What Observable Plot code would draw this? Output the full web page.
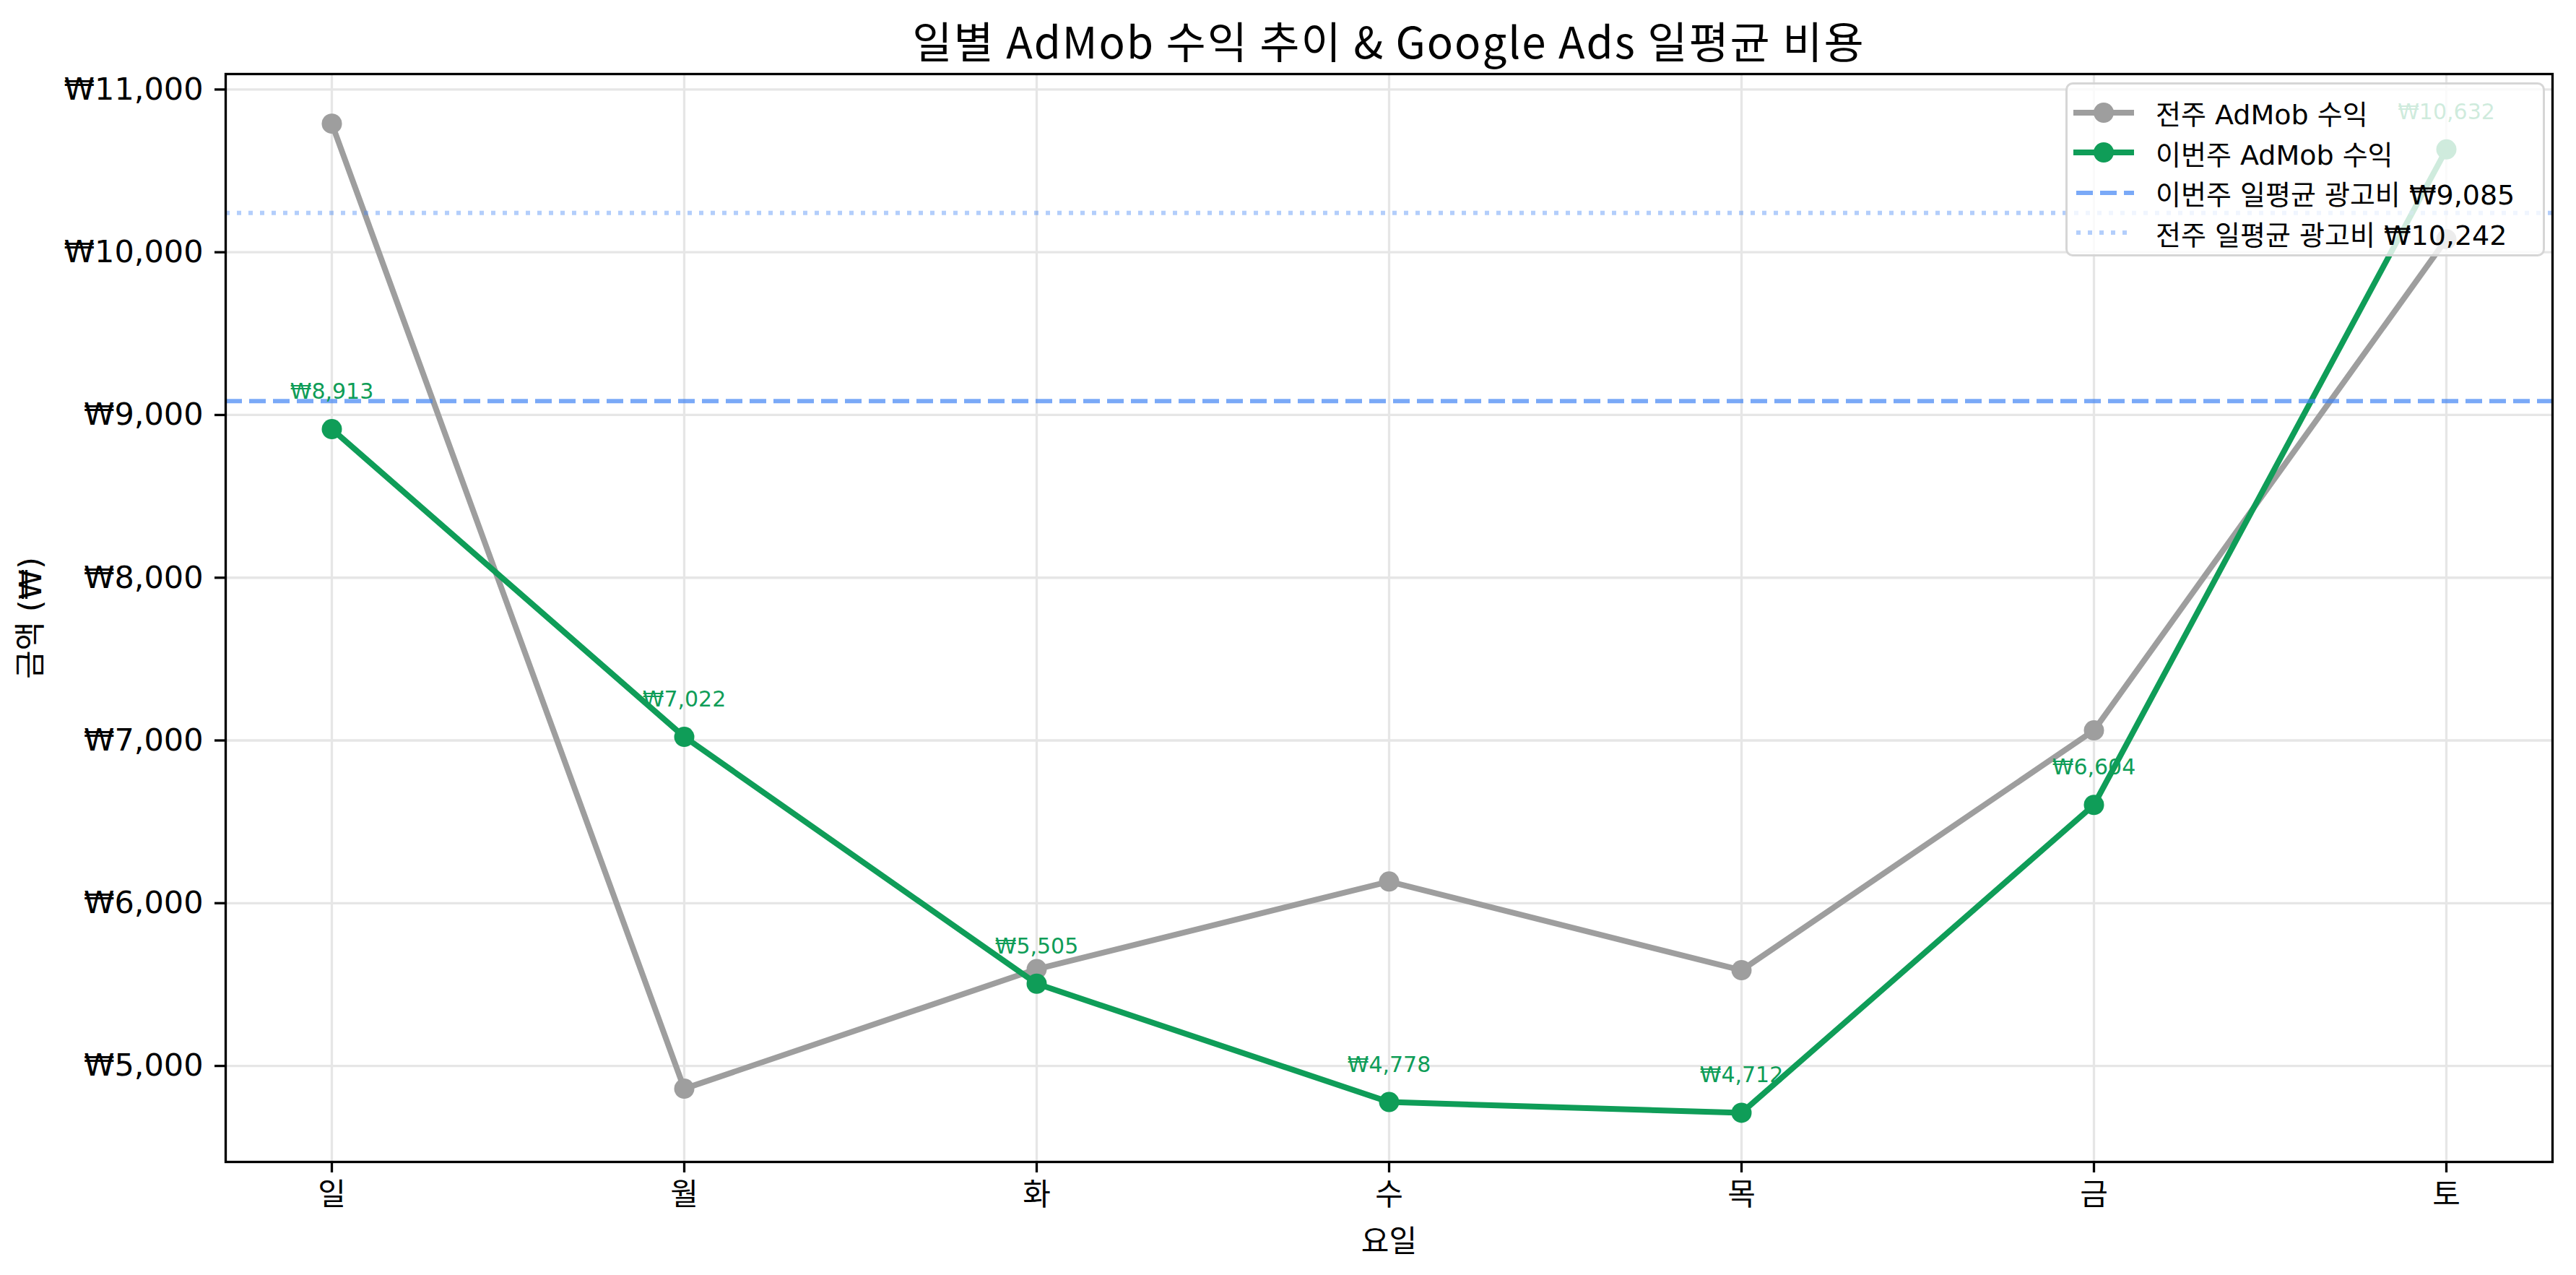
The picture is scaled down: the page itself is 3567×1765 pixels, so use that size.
<!DOCTYPE html>
<html>
<head>
<meta charset="utf-8">
<script src="https://cdn.jsdelivr.net/npm/d3@7"></script>
<script src="https://cdn.jsdelivr.net/npm/@observablehq/plot@0.6"></script>
<style>
  html, body { margin: 0; padding: 0; background: #ffffff; }
  body { width: 3567px; height: 1765px; overflow: hidden; font-family: "Noto Sans CJK KR", "Noto Sans", sans-serif; }
  #wrap { position: relative; width: 3567px; height: 1765px; }
  #title { height: 80px; box-sizing: border-box; padding-left: 312px; padding-right: 33px; text-align: center;
           font-size: 60px; line-height: 60px; padding-top: 25px; letter-spacing: 2px; color: #000; white-space: nowrap; }
  #legend { position: absolute; left: 2860px; top: 114px; width: 664px; height: 241px; box-sizing: border-box;
            background: rgba(255,255,255,0.8); border: 3px solid rgba(204,204,204,0.8); border-radius: 10px;
            padding-top: 11px; }
  .row { display: flex; align-items: center; height: 55.5px; font-size: 38px; color: #000; white-space: nowrap;
         font-family: "DejaVu Sans", "Noto Sans CJK KR", sans-serif; }
  .row svg { margin-left: 8px; margin-right: 30px; flex: none; }
</style>
</head>
<body>
<div id="wrap">
  <div id="title">일별 AdMob 수익 추이 &amp; Google Ads 일평균 비용</div>
  <div id="chart"></div>
  <div id="legend"></div>
</div>
<script>
const days = ["일", "월", "화", "수", "목", "금", "토"];
const lastWeekRevenue = [10790, 4860, 5595, 6133, 5588, 7062, 10080];
const thisWeekRevenue = [8913, 7022, 5505, 4778, 4712, 6604, 10632];
const avgCostThisWeek = 9085;
const avgCostLastWeek = 10242;
const yTicks = [5000, 6000, 7000, 8000, 9000, 10000, 11000];
const seriesNames = ["전주 AdMob 수익", "이번주 AdMob 수익"];

const GREEN = "#0f9d58";
const GRAY = "#9e9e9e";
const BLUE = "#4285f4";
const won = d => "₩" + d3.format(",")(d);

const lastData = days.map((d, i) => ({day: d, value: lastWeekRevenue[i]}));
const thisData = days.map((d, i) => ({day: d, value: thisWeekRevenue[i]}));

const chart = Plot.plot({
  width: 3567,
  height: 1685,
  marginTop: 22,
  marginBottom: 157,
  marginLeft: 312,
  marginRight: 33,
  style: {fontFamily: "'DejaVu Sans', 'Noto Sans CJK KR', sans-serif", fontSize: "42px", color: "#000", background: "#fff"},
  x: {type: "point", domain: days, padding: 0.3},
  y: {domain: [4410, 11095]},
  marks: [
    Plot.gridY(yTicks, {stroke: "#e6e6e6", strokeOpacity: 1, strokeWidth: 3.3}),
    Plot.gridX(days, {stroke: "#e6e6e6", strokeOpacity: 1, strokeWidth: 3.3}),
    Plot.line(lastData, {x: "day", y: "value", stroke: GRAY, strokeWidth: 8}),
    Plot.dot(lastData, {x: "day", y: "value", r: 14, fill: GRAY, stroke: null}),
    Plot.line(thisData, {x: "day", y: "value", stroke: GREEN, strokeWidth: 8}),
    Plot.dot(thisData, {x: "day", y: "value", r: 14, fill: GREEN, stroke: null}),
    Plot.ruleY([avgCostThisWeek], {stroke: BLUE, strokeOpacity: 0.7, strokeWidth: 6, strokeDasharray: "23,10"}),
    Plot.ruleY([avgCostLastWeek], {stroke: BLUE, strokeOpacity: 0.4, strokeWidth: 6, strokeDasharray: "6,10"}),
    Plot.text(thisData, {x: "day", y: "value", text: d => won(d.value), dy: -42, lineAnchor: "bottom",
                          fill: GREEN, fontSize: 30}),
    Plot.frame({stroke: "#000", strokeWidth: 3.3}),
    Plot.axisX(days, {tickSize: 15, tickPadding: 15, fontSize: 42, strokeWidth: 3.3,
                      label: "요일", labelAnchor: "center", labelArrow: "none", labelOffset: 124}),
    Plot.axisY(yTicks, {tickSize: 15, tickPadding: 16, fontSize: 43, strokeWidth: 3.3, tickFormat: won,
                        label: "금액 (₩)", labelAnchor: "center", labelArrow: "none", labelOffset: 286})
  ]
});
document.getElementById("chart").appendChild(chart);

// Legend (HTML overlay, semi-transparent like the reference)
const legendItems = [
  {label: seriesNames[0], color: GRAY, kind: "marker"},
  {label: seriesNames[1], color: GREEN, kind: "marker"},
  {label: "이번주 일평균 광고비 " + won(avgCostThisWeek), color: BLUE, opacity: 0.7, kind: "dash"},
  {label: "전주 일평균 광고비 " + won(avgCostLastWeek), color: BLUE, opacity: 0.4, kind: "dot"}
];
const legend = document.getElementById("legend");
legendItems.forEach(it => {
  const row = document.createElement("div");
  row.className = "row";
  const ns = "http://www.w3.org/2000/svg";
  const svg = document.createElementNS(ns, "svg");
  svg.setAttribute("width", 84);
  svg.setAttribute("height", 40);
  const ln = document.createElementNS(ns, "line");
  ln.setAttribute("x1", 0); ln.setAttribute("x2", 84);
  ln.setAttribute("y1", 20); ln.setAttribute("y2", 20);
  ln.setAttribute("stroke", it.color);
  if (it.kind === "marker") {
    ln.setAttribute("stroke-width", 8);
    svg.appendChild(ln);
    const c = document.createElementNS(ns, "circle");
    c.setAttribute("cx", 42); c.setAttribute("cy", 20); c.setAttribute("r", 14);
    c.setAttribute("fill", it.color);
    svg.appendChild(c);
  } else {
    ln.setAttribute("stroke-width", 6);
    ln.setAttribute("stroke-opacity", it.opacity);
    ln.setAttribute("stroke-dasharray", it.kind === "dash" ? "23,10" : "6,10");
    ln.setAttribute("x1", 4);
    svg.appendChild(ln);
  }
  row.appendChild(svg);
  const span = document.createElement("span");
  span.textContent = it.label;
  row.appendChild(span);
  legend.appendChild(row);
});
</script>
</body>
</html>
